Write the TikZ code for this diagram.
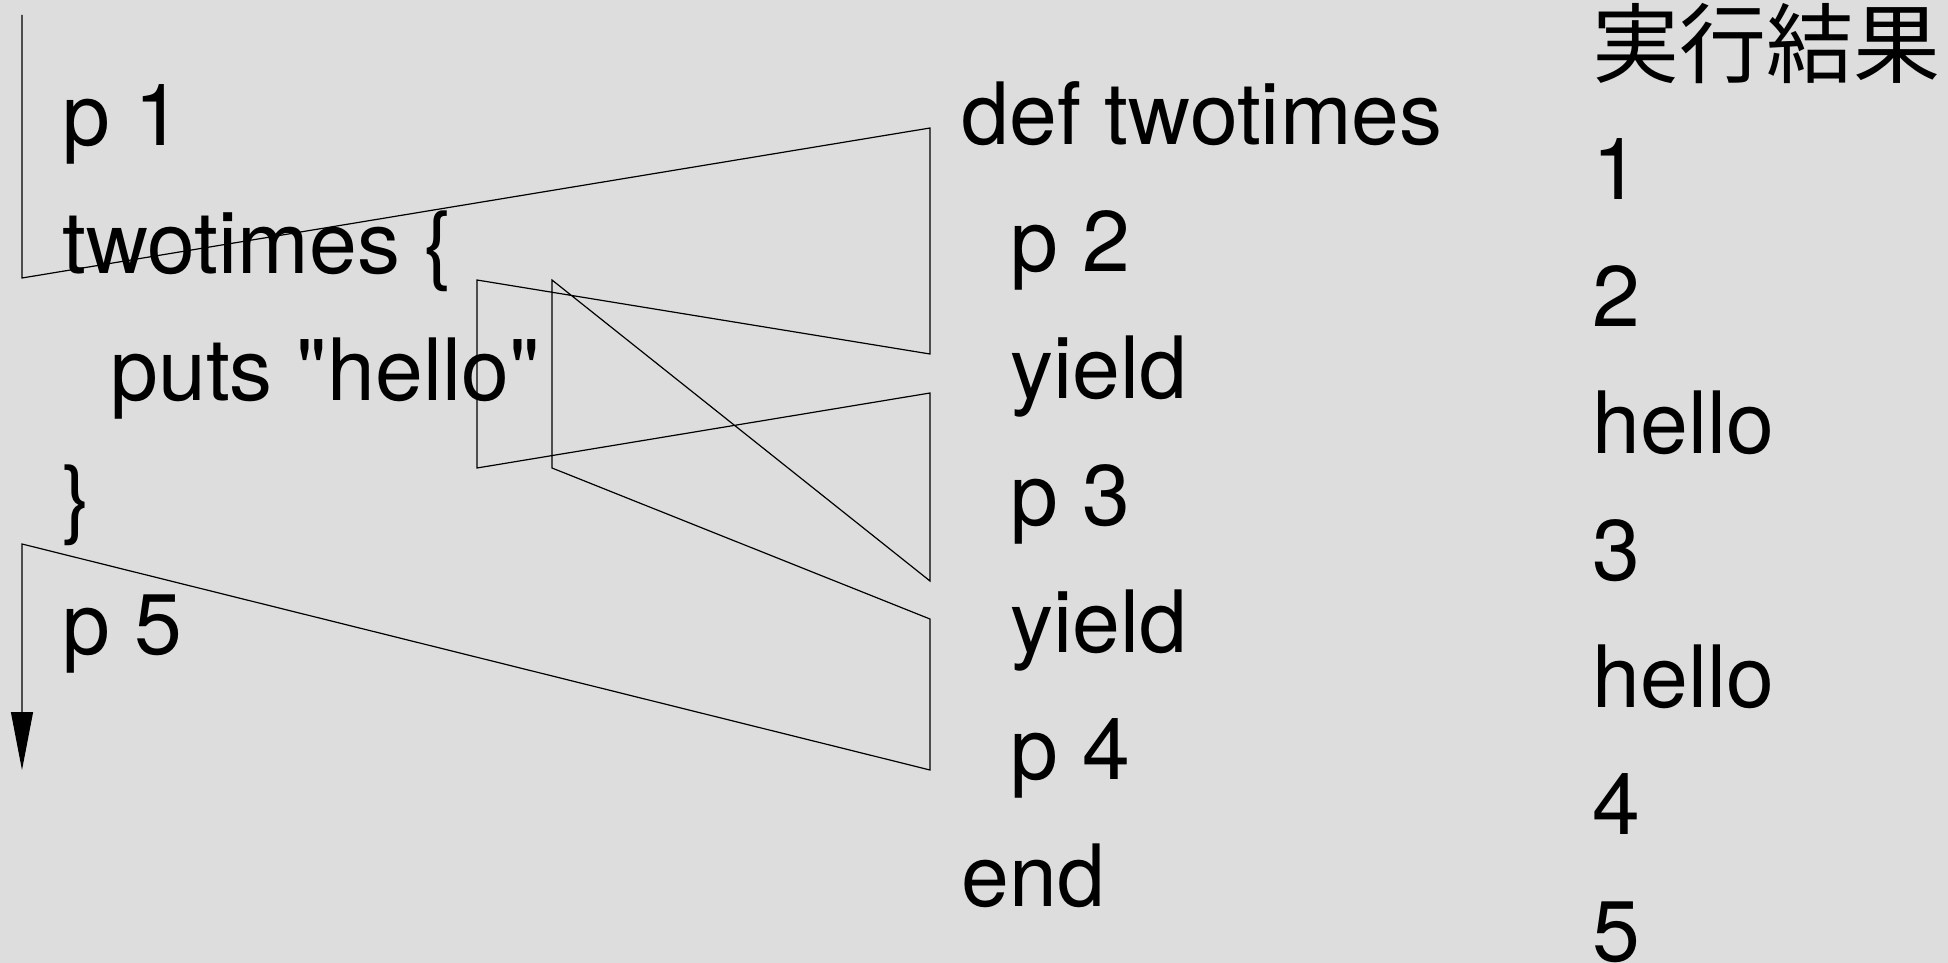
\documentclass[tikz,border=0pt]{standalone}
\usepackage{fontspec}
\setmainfont{TeX Gyre Heros}[Ligatures=TeXOff]
\newfontfamily\jpfont{Noto Sans CJK JP}
\usetikzlibrary{arrows.meta}
\definecolor{paper}{RGB}{221,221,221}
\tikzset{
	code/.style={anchor=base west, inner sep=0pt, font=\fontsize{43pt}{50pt}\selectfont},
	flow/.style={line width=0.6pt, line join=miter},
}
\begin{document}
\begin{tikzpicture}[x=0.5pt,y=-0.5pt]
		\fill[paper] (0,0) rectangle (1948,963);
		\useasboundingbox (0,0) rectangle (1948,963);
		
		% caller
		\node[code] (p1) at (62,146) {p 1};
		\node[code] (call) at (62,273) {twotimes \{};
		\node[code] (puts) at (110,400) {puts "hello"};
		\node[code] (close) at (62,527) {\}};
		\node[code] (p5) at (62,654) {p 5};
		
		% method
		\node[code] (def) at (961,144) {def twotimes};
		\node[code] (p2) at (1010,271) {p 2};
		\node[code] (yielda) at (1010,398) {yield};
		\node[code] (p3) at (1010,525) {p 3};
		\node[code] (yieldb) at (1010,652) {yield};
		\node[code] (p4) at (1010,779) {p 4};
		\node[code] (end) at (961,906) {end};
		
		% output
		\node[code] (head) at (1592,76) {\jpfont\fontsize{43.5pt}{50pt}\selectfont 実行結果};
		\node[code] (o1) at (1592,199) {1};
		\node[code] (o2) at (1592,326) {2};
		\node[code] (o3) at (1592,453) {hello};
		\node[code] (o4) at (1592,580) {3};
		\node[code] (o5) at (1592,707) {hello};
		\node[code] (o6) at (1592,834) {4};
		\node[code] (o7) at (1592,961) {5};
		
		% control flow
		\coordinate (top) at (22,15);
		\coordinate (a1) at (22,278);
		\coordinate (b1) at (930,128);
		\coordinate (b2) at (930,354);
		\coordinate (c1) at (477,280);
		\coordinate (c2) at (477,468);
		\coordinate (b3) at (930,393);
		\coordinate (b4) at (930,581);
		\coordinate (d1) at (552,280);
		\coordinate (d2) at (552,468);
		\coordinate (b5) at (930,619);
		\coordinate (b6) at (930,770);
		\coordinate (a2) at (22,544);
		\coordinate (bottom) at (22,770);
		\draw[flow,-{Triangle[length=29pt,width=11pt]}] (top) -- (a1) -- (b1) -- (b2) -- (c1) -- (c2) -- (b3) -- (b4) -- (d1) -- (d2) -- (b5) -- (b6) -- (a2) -- (bottom);
		
\end{tikzpicture}
\end{document}
